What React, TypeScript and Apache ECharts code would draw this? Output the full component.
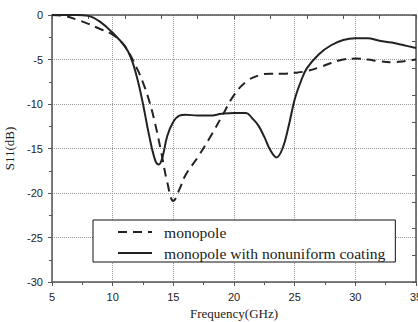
import React, { useEffect, useRef } from "react";
import * as echarts from "echarts";

const dashedFreq = [5, 6, 7, 8, 9, 10, 11, 12, 12.5, 13, 13.5, 14, 14.5, 15, 15.5, 16, 17, 18, 19, 20, 21, 22, 23, 24, 25, 26, 27, 28, 29, 30, 31, 32, 33, 34, 35];
const dashedS11 = [0, -0.1, -0.5, -1.0, -1.6, -2.2, -3.5, -6.0, -7.6, -9.6, -12.2, -15.4, -18.8, -20.9, -19.6, -18.0, -16.0, -13.8, -11.4, -9.0, -7.5, -6.8, -6.6, -6.6, -6.5, -6.3, -5.9, -5.4, -5.0, -4.9, -5.0, -5.2, -5.3, -5.2, -5.0];

const solidFreq = [5, 6, 7, 8, 9, 10, 11, 11.5, 12, 12.5, 13, 13.5, 13.8, 14.1, 14.5, 15, 15.5, 16, 17, 18, 19, 20, 21, 21.5, 22, 22.5, 23, 23.5, 24, 24.5, 25, 25.5, 26, 27, 28, 29, 30, 31, 32, 33, 34, 35];
const solidS11 = [0, 0, 0, -0.1, -0.8, -2.0, -3.5, -4.8, -7.0, -10.0, -13.5, -16.3, -16.8, -16.0, -13.6, -12.0, -11.3, -11.2, -11.3, -11.3, -11.1, -11.0, -11.0, -11.6, -12.4, -13.7, -15.2, -16.0, -15.0, -12.5, -9.5, -7.5, -6.0, -4.4, -3.4, -2.8, -2.6, -2.6, -2.9, -3.1, -3.4, -3.7];

const seriesNames = ["monopole", "monopole with nonuniform coating"];
const xTicks = { min: 5, max: 35, step: 5, topStep: 3 };
const yTicks = { min: -30, max: 0, step: 5, rightStep: 3 };

const zip = (xs: number[], ys: number[]) => xs.map((x, i) => [x, ys[i]]);

export default function App() {
  const ref = useRef<HTMLDivElement>(null);
  useEffect(() => {
    if (!ref.current) return;
    const chart = echarts.init(ref.current, undefined, { renderer: "svg" });
    const axisColor = "#555";
    const axisLine = { show: true, onZero: false, lineStyle: { color: axisColor, width: 1.5 } };
    chart.setOption({
      animation: false,
      backgroundColor: "#fff",
      grid: { left: 52, right: 2, top: 15, bottom: 40, containLabel: false, outerBoundsMode: "none" },
      legend: {
        show: true,
        data: seriesNames,
        orient: "vertical",
        left: 93,
        top: 220,
        itemWidth: 34,
        itemHeight: 14,
        itemGap: 5,
        padding: [4, 10, 1, 24],
        borderColor: "#111",
        borderWidth: 1,
        backgroundColor: "#fff",
        itemStyle: { opacity: 0 },
        textStyle: { fontFamily: "Liberation Serif", fontSize: 15.6, color: "#222", padding: [0, 0, 0, 7] },
      },
      xAxis: [
        {
          type: "value",
          position: "bottom",
          min: xTicks.min,
          max: xTicks.max,
          interval: xTicks.step,
          axisLine,
          axisTick: { show: true, length: 4, lineStyle: { color: axisColor, width: 1 } },
          minorTick: { show: true, splitNumber: 2, length: 3, lineStyle: { color: axisColor } },
          axisLabel: { color: "#222", fontSize: 11, fontFamily: "Liberation Sans", margin: 9 },
          splitLine: { show: true, lineStyle: { type: "dotted", color: "#999", width: 1 } },
          name: "Frequency(GHz)",
          nameLocation: "middle",
          nameGap: 24,
          nameTextStyle: { fontFamily: "Liberation Serif", fontSize: 13, color: "#222" },
        },
        {
          type: "value",
          position: "top",
          min: xTicks.min,
          max: xTicks.max,
          interval: xTicks.topStep,
          axisLine,
          axisTick: { show: true, inside: true, length: 4, lineStyle: { color: axisColor } },
          axisLabel: { show: false },
          splitLine: { show: false },
        },
      ],
      yAxis: [
        {
          type: "value",
          position: "left",
          min: yTicks.min,
          max: yTicks.max,
          interval: yTicks.step,
          axisLine,
          axisTick: { show: true, length: 4, lineStyle: { color: axisColor, width: 1 } },
          minorTick: { show: true, splitNumber: 2, length: 3, lineStyle: { color: axisColor } },
          axisLabel: { color: "#222", fontSize: 11, fontFamily: "Liberation Sans", margin: 9 },
          splitLine: { show: true, lineStyle: { type: "dotted", color: "#999", width: 1 } },
          name: "S11(dB)",
          nameLocation: "middle",
          nameRotate: 90,
          nameGap: 32,
          nameTextStyle: { fontFamily: "Liberation Serif", fontSize: 13, color: "#222" },
        },
        {
          type: "value",
          position: "right",
          min: yTicks.min,
          max: yTicks.max,
          interval: yTicks.rightStep,
          axisLine,
          axisTick: { show: true, inside: true, length: 4, lineStyle: { color: axisColor } },
          axisLabel: { show: false },
          splitLine: { show: false },
        },
      ],
      series: [
        {
          name: seriesNames[0],
          type: "line",
          xAxisIndex: 0,
          yAxisIndex: 0,
          data: zip(dashedFreq, dashedS11),
          smooth: 0.4,
          symbol: "none",
          lineStyle: { color: "#222", width: 2, type: [9, 6] },
          itemStyle: { color: "#222" },
        },
        {
          name: seriesNames[1],
          type: "line",
          xAxisIndex: 0,
          yAxisIndex: 0,
          data: zip(solidFreq, solidS11),
          smooth: 0.4,
          symbol: "none",
          lineStyle: { color: "#222", width: 2 },
          itemStyle: { color: "#222" },
        },
      ],
    });
    return () => chart.dispose();
  }, []);
  return (
    <div
      ref={ref}
      style={{ position: "fixed", left: 0, top: 0, width: 418, height: 322, background: "#fff" }}
    />
  );
}
